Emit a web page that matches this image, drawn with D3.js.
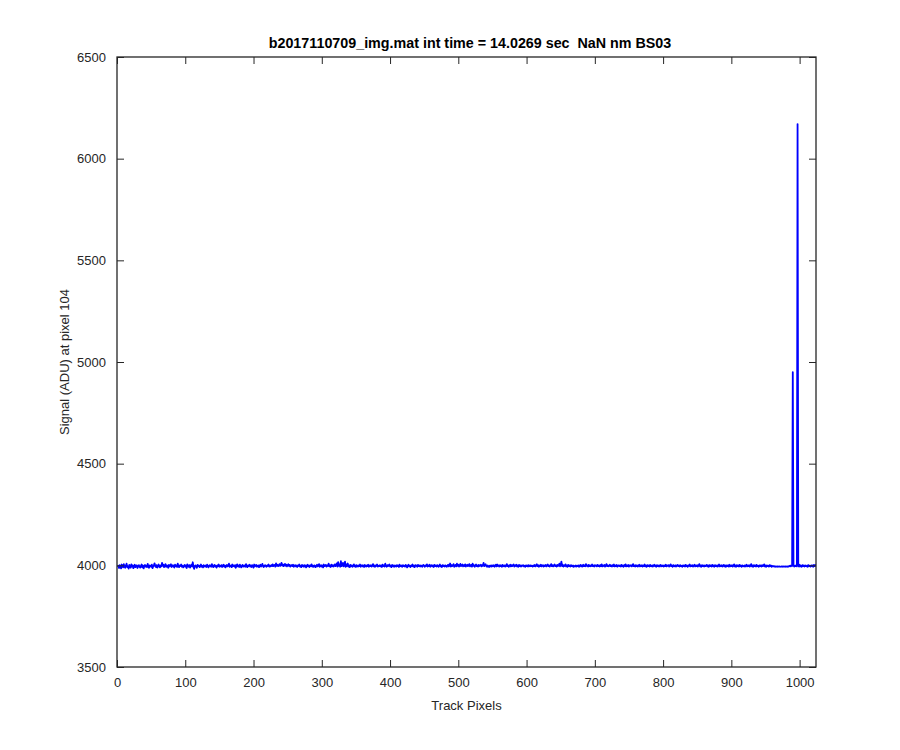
<!DOCTYPE html>
<html><head><meta charset="utf-8">
<script src="https://cdn.jsdelivr.net/npm/d3@7"></script>
<style>body{margin:0;background:#fff}svg{display:block}text{font-family:"Liberation Sans",Arial,sans-serif}</style>
</head><body>
<svg id="chart" width="900" height="750"></svg>
<script>
const titleText = "b2017110709_img.mat int time = 14.0269 sec  NaN nm BS03";
const xLabel = "Track Pixels";
const yLabel = "Signal (ADU) at pixel 104";
const xTicks = [0,100,200,300,400,500,600,700,800,900,1000];
const yTicks = [3500,4000,4500,5000,5500,6000,6500];
const xDomain = [0,1024];
const yDomain = [3500,6500];
// signal values for track pixels 1..1024
const signal = [
3992,3998,3987,4001,3994,3985,4004,3996,3990,4006,3993,3988,3999,4008,3991,3995,3984,4002,3997,3989,4005,3994,3999,3986,3996,4003,3991,3998,4000,3987,3995,4001,
3993,3989,3997,4004,3990,3999,3985,3996,4002,3994,3998,3991,4007,3995,3988,4000,3997,3993,4003,3986,3995,3999,4010,3996,3992,4001,3989,3997,4004,3994,3990,3999,
3995,4012,3998,4003,3991,3997,4006,3993,4000,3996,3988,4002,3995,3999,4005,3992,3997,4001,3994,3989,4003,3996,3999,3992,4008,3995,3991,4000,3997,4004,3993,3998,
3990,3996,4002,3994,3999,3987,4005,3996,3993,4001,3989,3998,4003,3995,4015,3992,3983,3997,4000,3994,3988,4002,3996,3999,3991,3995,4004,3993,3997,3990,4001,3996,
3994,3999,3992,4003,3996,3990,3998,4001,3995,3993,4006,3997,3991,3999,4002,3994,3997,3989,4000,3996,4004,3993,3998,3995,4001,3992,3997,4003,3994,3999,3990,3996,
4002,3995,3998,4008,3993,3997,4000,3991,4004,3996,3999,3994,4001,3988,3997,4005,3995,3999,3992,4003,3996,3990,3998,4002,3994,3997,4000,3993,4006,3996,3991,3999,
3997,4003,3994,3999,3992,4001,3996,3989,4004,3995,3998,4002,3993,3997,4000,3991,3996,4003,3994,3999,4007,3995,3992,3998,4001,3996,3993,4000,3997,4004,3994,3998,
3995,4001,3997,4005,3996,3999,4002,3994,4009,3998,4003,3996,4000,4006,3997,4002,4012,3999,4004,3996,4001,4007,3998,4003,3995,4000,4005,3997,4002,3994,3999,4001,
3996,4003,3993,3998,4001,3995,3999,3992,4000,3997,4004,3994,3998,3991,4002,3996,3999,3993,4001,3997,3990,3998,4003,3995,3999,3992,4000,3996,4005,3994,3998,3993,
4000,3996,3991,3999,4003,3995,3998,4006,3993,3997,4001,3994,3999,3990,4004,3996,3998,4002,3994,4000,3997,4008,3995,3999,3992,4003,3997,4001,3994,3998,4005,3996,
3999,4010,3994,4016,3998,4003,3993,4020,3996,4001,4012,3995,3999,4018,3993,4004,3997,4009,3994,3999,3991,4002,3996,4000,3993,3998,4005,3995,3999,3992,4001,3997,
3994,4000,3996,4004,3993,3998,4001,3995,3999,3992,4002,3997,3994,4000,3996,4003,3993,3999,3996,4001,3994,3998,4006,3995,3999,3993,4000,3997,4004,3994,3998,3996,
4001,3995,3999,3992,4003,3996,4000,3994,4008,3997,3993,4001,3996,3999,4004,3995,3998,3991,4002,3996,3999,3993,4000,3997,3994,4001,3996,3999,3992,4003,3997,3995,
3999,3993,4001,3996,3998,3994,4002,3997,3990,3999,4003,3995,3998,3992,4000,3996,4004,3994,3998,3991,4001,3997,3999,3993,4002,3996,3999,3994,4000,3997,3993,3999,
4002,3996,3993,4000,3997,4005,3994,3999,3996,4003,3993,3998,4001,3995,3999,3992,4002,3996,3999,3994,4001,3997,3993,3999,4004,3995,3998,3992,4001,3996,3999,3994,
4000,3997,3993,3999,4003,3995,3998,4009,3994,4001,3996,3999,4006,3993,3998,4002,3995,4008,3997,4003,3994,4000,4007,3996,3999,4004,3995,4001,3997,4005,3994,3999,
4003,3996,4000,4006,3995,3999,4002,3994,4008,3997,4001,3993,3999,4004,3996,4000,3994,4002,3997,3999,4003,3995,4001,3998,4012,3996,4000,4005,3997,3993,3999,3996,
3992,3998,3995,4000,3994,3999,3996,4001,3993,3998,4003,3995,4004,3997,4000,3994,4001,3996,3999,3993,4002,3997,3995,4000,3994,3998,4006,3996,4000,3993,3999,4003,
3995,4001,3996,3999,4004,3994,4000,3997,4003,3995,3999,3993,4002,3996,4000,3994,3999,3997,4001,3995,3998,3993,4000,3996,3999,3994,4001,3997,3995,4000,3996,3998,
3994,3999,3996,4002,3995,3999,4005,3996,4001,3993,3999,3996,4003,3995,3998,4001,3994,3999,3997,4002,3995,3999,4004,3996,4000,3994,3999,4006,3996,4001,3995,3999,
4004,3996,4000,3994,4002,3997,3999,4008,3995,4001,4018,3996,4003,3994,4000,3997,4005,3995,3999,3993,4002,3996,3999,3994,4001,3997,3995,3999,3993,3997,3995,3999,
3994,3998,3996,4000,3993,3998,4002,3995,3999,3994,4003,3996,4000,3995,4006,3997,3999,3994,4002,3996,4000,3995,3998,4004,3996,3999,3994,4001,3997,3999,3995,4002,
3997,3999,3994,4001,3996,4005,3995,3999,3997,4002,3994,3999,4006,3996,4000,3995,3998,4003,3996,3999,3994,4001,3997,4004,3995,3999,3996,4002,3994,3998,4000,3996,
3999,3994,4002,3996,3999,3993,4001,3997,4005,3995,3999,3996,4002,3994,3999,3997,4001,3995,3998,4006,3996,3999,3994,4001,3996,4000,3994,3998,4003,3995,3999,3996,
4001,3994,3999,3996,4004,3995,3999,3993,4001,3996,3999,3994,4002,3997,3995,4000,3994,3998,4003,3996,3999,3993,4001,3996,3999,3994,3998,4002,3995,3999,3996,4000,
3994,3999,3996,4003,3995,3999,3997,4001,3994,3998,4005,3996,3999,3993,4001,3997,3995,4000,3994,3998,4002,3996,3999,3994,4001,3996,3998,3993,4000,3996,3999,3994,
4002,3996,3999,3993,4000,3997,4004,3995,3999,3996,4001,3994,3998,4003,3995,3999,3996,4001,3994,3999,4006,3995,3999,3993,4001,3996,3999,3994,4000,3996,3998,4002,
3995,3999,3993,4001,3996,3999,3994,4002,3996,3999,3993,4001,3997,3995,4000,3994,3998,4004,3995,3999,3996,4001,3994,3998,4002,3995,3999,3993,4000,3996,3999,3994,
4003,3995,3999,3996,4001,3994,3998,4005,3995,3999,3993,4001,3996,3999,3994,4002,3996,3999,3993,4000,3997,3995,3999,3994,3998,4003,3995,3999,3996,4001,3994,3998,
4006,3995,3999,3993,4001,3996,3999,3994,4002,3996,3998,3993,4000,3996,3999,3994,4001,3996,3998,4005,3995,3999,3993,4000,3996,3998,3994,4001,3996,3999,3993,3997,
3995,3996,3994,3995,3993,3994,3995,3993,3994,3995,3994,3993,3994,3995,3993,3994,3995,3994,3993,3995,3994,3993,3995,3994,3996,3998,3995,4000,3997,4950,3999,3994,
3998,3996,4001,3995,6170,3999,3994,4003,3995,3998,3993,4001,3996,3999,3994,4000,3997,3995,3999,3993,4001,3996,3998,3994,4000,3996,3999,3993,4002,3996,3998,4004
];
const pixels = signal.map((v,i)=>i+1);

const svg = d3.select("#chart");
const L=117, R=816, T=57, B=667;
const x = d3.scaleLinear().domain(xDomain).range([L,R]);
const y = d3.scaleLinear().domain(yDomain).range([B,T]);
const axisColor = "#262626";

svg.append("rect").attr("width",900).attr("height",750).attr("fill","#fff");

// data line (clipped to axes)
svg.append("clipPath").attr("id","clip").append("rect").attr("x",L).attr("y",T).attr("width",R-L).attr("height",B-T);
const line = d3.line().x((d,i)=>x(pixels[i])).y(d=>y(d));
svg.append("path").datum(signal).attr("clip-path","url(#clip)")
  .attr("fill","none").attr("stroke","#0000ff").attr("stroke-width",1.8)
  .attr("stroke-linejoin","round").attr("d",line);

function styleAxis(g){
  g.selectAll(".domain").remove();
  g.selectAll("line").attr("stroke",axisColor).attr("stroke-width",1);
  g.selectAll("text").attr("fill",axisColor).style("font-size","13px").style("font-family","'Liberation Sans',Arial,sans-serif");
}
const tl = 7;
svg.append("g").attr("transform",`translate(0,${B})`)
  .call(d3.axisBottom(x).tickValues(xTicks).tickFormat(d3.format("d")).tickSizeInner(-tl).tickSizeOuter(0).tickPadding(11))
  .call(styleAxis);
svg.append("g").attr("transform",`translate(0,${T})`)
  .call(d3.axisTop(x).tickValues(xTicks).tickFormat("").tickSizeInner(-tl).tickSizeOuter(0))
  .call(styleAxis);
svg.append("g").attr("transform",`translate(${L},0)`)
  .call(d3.axisLeft(y).tickValues(yTicks).tickFormat(d3.format("d")).tickSizeInner(-tl).tickSizeOuter(0).tickPadding(11))
  .call(styleAxis);
svg.append("g").attr("transform",`translate(${R},0)`)
  .call(d3.axisRight(y).tickValues(yTicks).tickFormat("").tickSizeInner(-tl).tickSizeOuter(0))
  .call(styleAxis);

// box
svg.append("rect").attr("x",L).attr("y",T).attr("width",R-L).attr("height",B-T)
  .attr("fill","none").attr("stroke",axisColor).attr("stroke-width",1.3);

svg.append("text").attr("x",470).attr("y",48).attr("text-anchor","middle")
  .style("font-size","14.3px").style("font-weight","bold").style("white-space","pre")
  .attr("fill","#000").text(titleText);
svg.append("text").attr("x",(L+R)/2).attr("y",710).attr("text-anchor","middle")
  .style("font-size","13px").attr("fill",axisColor).text(xLabel);
svg.append("text").attr("transform",`translate(69,${(T+B)/2}) rotate(-90)`).attr("text-anchor","middle")
  .style("font-size","13px").attr("fill",axisColor).text(yLabel);
</script>
</body></html>
